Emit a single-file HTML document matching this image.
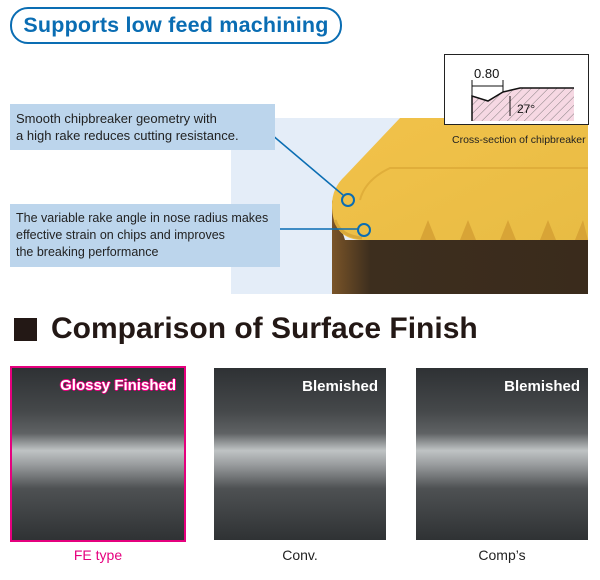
<!DOCTYPE html>
<html><head><meta charset="utf-8"><style>
body{margin:0;width:600px;height:580px;background:#fff;font-family:"Liberation Sans",sans-serif;position:relative;overflow:hidden}
.a{position:absolute}
.pill{left:10px;top:7px;width:328px;height:33px;border:2px solid #0a6db3;border-radius:18px;color:#0a6db3;font-weight:bold;font-size:21.5px;line-height:33px;text-align:center;letter-spacing:.2px}
.lb{background:#bcd5ec;color:#222;font-size:13px;line-height:17px;padding:6px 6px}
.img{width:172px;height:172px;background:linear-gradient(#2e3134 0%,#45484a 25%,#5f6264 38%,#bfc3c4 48%,#9a9d9f 56%,#4e5153 70%,#2f3234 100%)}
.cap{font-size:14px;text-align:center;width:172px}
</style></head><body>
<div class="a pill">Supports low feed machining</div>
<div class="a" style="left:231px;top:118px;width:357px;height:176px;background:#e4edf8"></div>
<svg class="a" style="left:0;top:0" width="600" height="300">
<defs><linearGradient id="br" x1="0" x2="1"><stop offset="0" stop-color="#7a5428"/><stop offset=".15" stop-color="#3d2e1e"/><stop offset="1" stop-color="#3a2b1c"/></linearGradient>
<linearGradient id="ye" x1="0" y1="0" x2="1" y2="1"><stop offset="0" stop-color="#f2c24a"/><stop offset="1" stop-color="#e8bc44"/></linearGradient>
<pattern id="h" width="6" height="6" patternUnits="userSpaceOnUse" patternTransform="rotate(45)"><rect width="6" height="6" fill="#f6d8e3"/><line x1="0" y1="0" x2="0" y2="6" stroke="#666" stroke-width=".8"/></pattern></defs>
<path d="M332 200 L332 294 L588 294 L588 240 L345 240 Z" fill="url(#br)"/>
<path d="M400 118 L588 118 L588 240 L360 240 Q332 238 332 205 Q332 188 345 176 Z" fill="url(#ye)"/>
<path d="M335 220 Q340 236 362 238" stroke="#d9a93a" stroke-width="3" fill="none"/>
<path d="M360 200 Q365 180 390 168 L588 168" stroke="#e0ae3a" stroke-width="2" fill="none"/>
<g fill="#d8a436"><path d="M420 240 l8 -20 l8 20z"/><path d="M460 240 l8 -20 l8 20z"/><path d="M500 240 l8 -20 l8 20z"/><path d="M540 240 l8 -20 l8 20z"/><path d="M575 240 l8 -20 l5 20z"/></g>
<line x1="265" y1="129" x2="343" y2="195" stroke="#0a6db3" stroke-width="1.5"/>
<circle cx="348" cy="200" r="6" fill="none" stroke="#0a6db3" stroke-width="2"/>
<line x1="270" y1="229" x2="358" y2="229" stroke="#0a6db3" stroke-width="1.5"/>
<circle cx="364" cy="230" r="6" fill="none" stroke="#0a6db3" stroke-width="2"/>
<rect x="444.5" y="54.5" width="144" height="70" fill="#fff" stroke="#222"/>
<path d="M472 121 L472 96 L488 101 L503 92 L520 88 L574 88 L574 121 Z" fill="url(#h)"/>
<path d="M472 121 L472 96 L488 101 L503 92 L520 88 L574 88" stroke="#111" stroke-width="1.5" fill="none"/>
<line x1="472" y1="86" x2="503" y2="86" stroke="#111"/><line x1="472" y1="80" x2="472" y2="96" stroke="#111"/><line x1="503" y1="80" x2="503" y2="92" stroke="#111"/>
<text x="474" y="78" font-size="13" fill="#111" font-family="Liberation Sans">0.80</text>
<line x1="510" y1="96" x2="510" y2="116" stroke="#111"/>
<text x="517" y="113" font-size="12" fill="#111" font-family="Liberation Sans">27°</text>
<text x="452" y="143" font-size="10.5" fill="#222" font-family="Liberation Sans">Cross-section of chipbreaker</text>
</svg>
<div class="a lb" style="left:10px;top:104px;width:253px;height:34px">Smooth chipbreaker geometry with<br>a high rake reduces cutting resistance.</div>
<div class="a lb" style="left:10px;top:204px;width:258px;height:51px;font-size:12.5px">The variable rake angle in nose radius makes<br>effective strain on chips and improves<br>the breaking performance</div>
<div class="a" style="left:14px;top:318px;width:23px;height:23px;background:#231815"></div>
<div class="a" style="left:51px;top:312px;font-size:30px;font-weight:bold;color:#231815">Comparison of Surface Finish</div>
<div class="a img" style="left:12px;top:368px;outline:2px solid #e5007e"></div>
<div class="a" style="left:12px;top:377px;width:164px;text-align:right;color:#fff;font-weight:bold;font-size:15px;text-shadow:-1px 0 #e5007e,1px 0 #e5007e,0 -1px #e5007e,0 1px #e5007e">Glossy Finished</div>
<div class="a img" style="left:214px;top:368px"></div>
<div class="a" style="left:214px;top:378px;width:164px;text-align:right;color:#fff;font-weight:bold;font-size:15px">Blemished</div>
<div class="a img" style="left:416px;top:368px"></div>
<div class="a" style="left:416px;top:378px;width:164px;text-align:right;color:#fff;font-weight:bold;font-size:15px">Blemished</div>
<div class="a cap" style="left:12px;top:547px;color:#e5007e">FE type</div>
<div class="a cap" style="left:214px;top:547px;color:#222">Conv.</div>
<div class="a cap" style="left:416px;top:547px;color:#222">Comp’s</div>
</body></html>
